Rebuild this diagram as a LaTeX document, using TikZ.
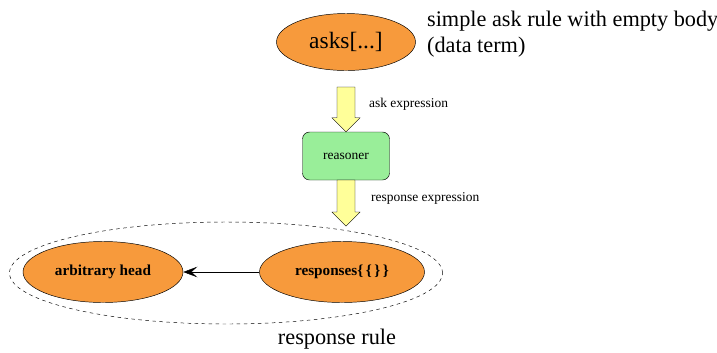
\documentclass[tikz,border=0pt]{standalone}
\usepackage{fontspec}
\setmainfont{Liberation Serif}
\usepackage{xcolor}
\usetikzlibrary{shapes.geometric,arrows.meta,calc}

\definecolor{termorange}{RGB}{247,154,60}
\definecolor{reasongreen}{RGB}{153,238,153}
\definecolor{flowyellow}{RGB}{255,255,153}

\tikzset{
    term/.style={ellipse, draw, fill=termorange, inner sep=0pt},
    engine/.style={draw, rounded corners=6pt, fill=reasongreen, minimum width=87*0.03cm, minimum height=48*0.03cm},
    flowlabel/.style={anchor=west, font=\fontsize{11.5}{12}\selectfont},
    caption/.style={font=\fontsize{19}{22}\selectfont}
}

\begin{document}
\begin{tikzpicture}[x=0.03cm, y=-0.03cm]
    \useasboundingbox (0,0) rectangle (717,352);

    % Ask side
    \node[term, minimum width=139*0.03cm, minimum height=57*0.03cm, font=\fontsize{20}{22}\selectfont] (asks) at (346,42) {asks[...]};
    \node[caption, anchor=north west, align=left] (askcap) at (423,7) {simple ask rule with empty body\\(data term)};

    % Reasoner
    \node[engine, font=\fontsize{11.5}{12}\selectfont] (reasoner) at (346,156) {reasoner};

    % Response rule
    \node[ellipse, draw, dashed, minimum width=433*0.03cm, minimum height=102*0.03cm] (rule) at (226,273) {};
    \node[term, minimum width=160*0.03cm, minimum height=61*0.03cm, font=\bfseries\fontsize{13}{14}\selectfont] (head) at (103,272) {arbitrary head};
    \node[term, minimum width=165*0.03cm, minimum height=61*0.03cm, font=\bfseries\fontsize{13}{14}\selectfont] (responses) at (342,272) {responses\{\,\{\,\}\,\}};
    \node[caption] (rulecap) at (337,339) {response rule};

    % Flow arrows
    \coordinate (a1) at (346,87);
    \coordinate (a2) at (346,180);
    \coordinate (b2) at (346,226);
    \foreach \src/\dst in {a1/reasoner.north, a2/b2} {
        \draw[fill=flowyellow, line width=0.3pt] ($(\src)+(-9,0)$) -- ($(\dst)+(-9,-14)$) -- ($(\dst)+(-14,-14)$)
            -- (\dst) -- ($(\dst)+(14,-14)$) -- ($(\dst)+(9,-14)$) -- ($(\src)+(9,0)$) -- cycle;
    }
    \node[flowlabel] (asklbl) at (365,104) {ask expression};
    \node[flowlabel] (resplbl) at (367,198) {response expression};

    \draw[-{Stealth[length=12pt,width=9pt,inset=5pt]}] (responses) -- (head);
\end{tikzpicture}
\end{document}
